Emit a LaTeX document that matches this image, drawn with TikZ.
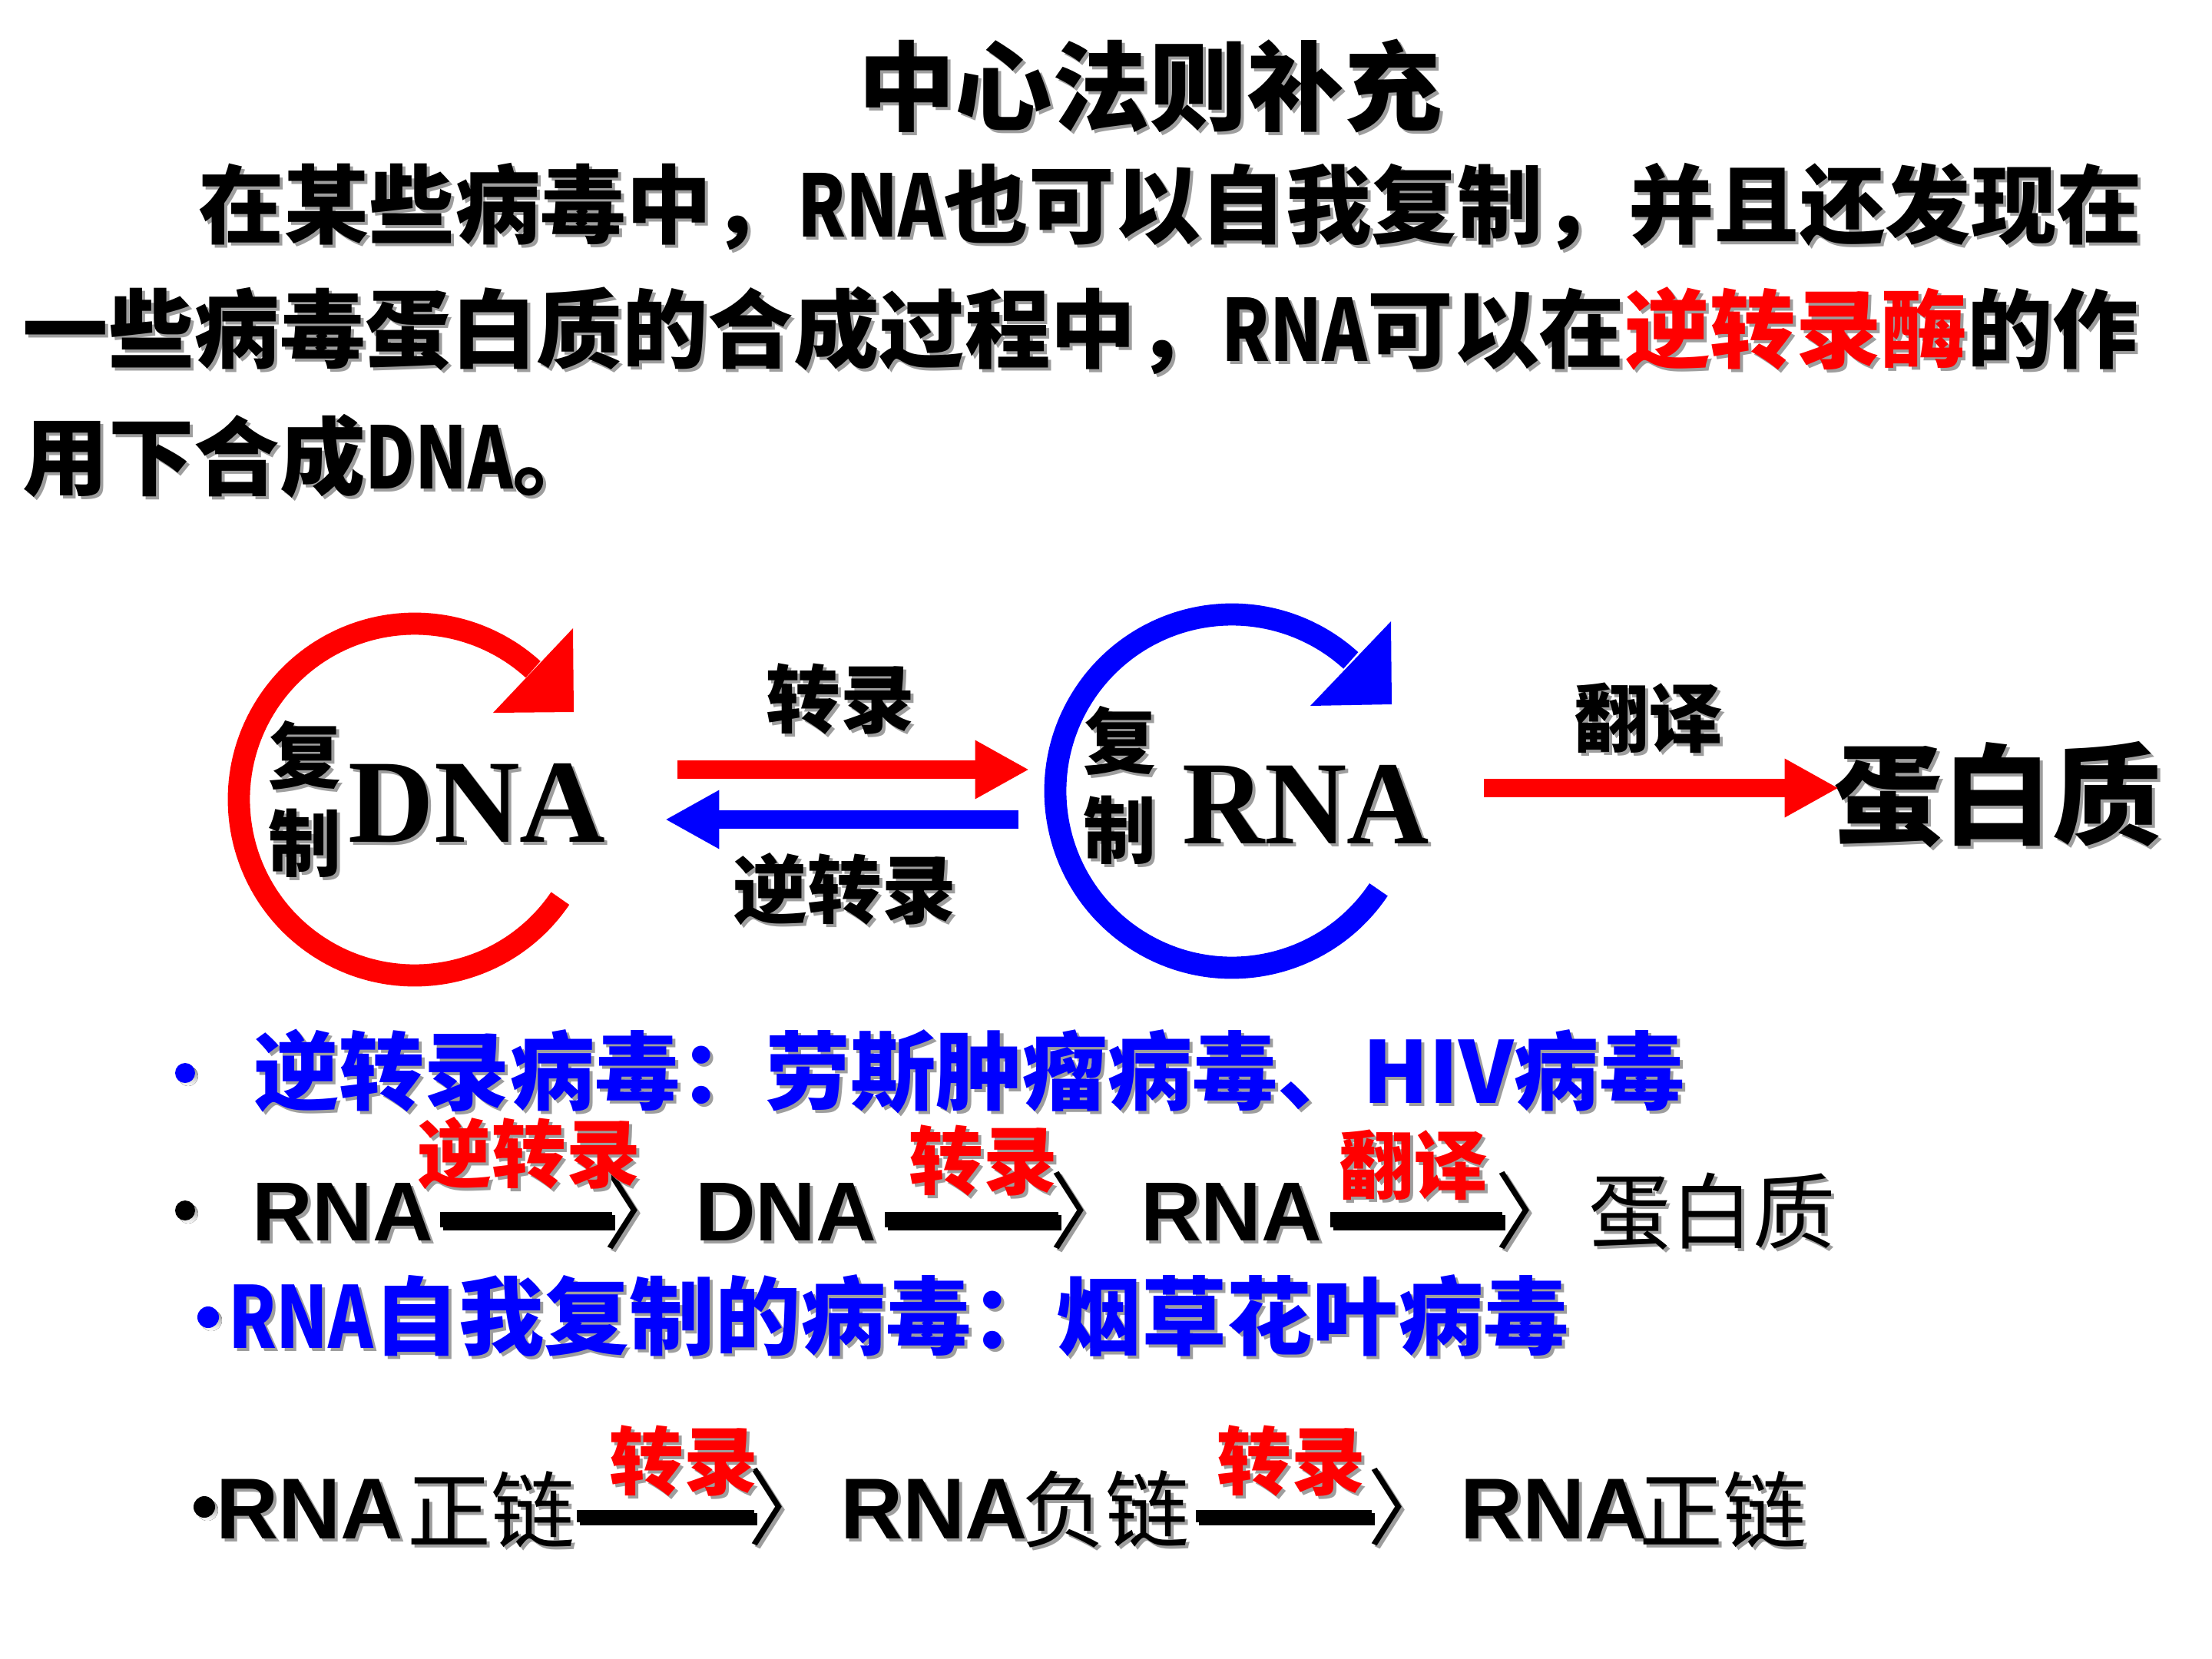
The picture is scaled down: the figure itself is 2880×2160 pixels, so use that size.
\documentclass[tikz,border=0pt]{standalone}
\usepackage{fontspec}
\usepackage{graphicx}
\usetikzlibrary{calc,arrows.meta}
\newfontfamily\cjk{Noto Sans CJK SC}
\newfontfamily\ser{Liberation Serif}
\newfontfamily\ari{Liberation Sans}
\definecolor{shade}{gray}{0.62}
\definecolor{pred}{RGB}{255,0,0}
\definecolor{pblue}{RGB}{0,0,255}
\newcommand\hlc{pred}
\newcommand\nrw[1]{\scalebox{0.8}[1]{#1}}
\newcommand\shnode[4][]{%
  \node[#1,text=shade,execute at begin node={\renewcommand\hlc{shade}}] at ($(#3)+(4,4)$) {#4};
  \node[#1] (#2) at (#3) {#4};}
\tikzset{
  every node/.style={inner sep=0pt, outer sep=0pt},
  ttl/.style={font=\cjk\bfseries\fontsize{36}{40}\selectfont},
  para/.style={font=\cjk\bfseries\fontsize{31.7}{36}\selectfont, anchor=west},
  lab/.style={font=\cjk\bfseries\fontsize{27.5}{30}\selectfont},
  fz/.style={font=\cjk\bfseries\fontsize{27}{30}\selectfont},
  mol/.style={font=\ser\bfseries\fontsize{44}{48}\selectfont},
  prot/.style={font=\cjk\bfseries\fontsize{40.4}{44}\selectfont},
  bl/.style={font=\cjk\bfseries\fontsize{31.6}{36}\selectfont, anchor=west, text=pblue},
  eqB/.style={font=\ari\bfseries\fontsize{31}{34}\selectfont, anchor=base west},
  eqD/.style={font=\ari\bfseries\fontsize{32}{35}\selectfont, anchor=base west},
  thinB/.style={font=\cjk\fontsize{30.5}{34}\selectfont, anchor=west},
  thinD/.style={font=\cjk\fontsize{31}{34}\selectfont, anchor=west},
  brk/.style={font=\cjk\fontsize{31}{34}\selectfont, anchor=west},
  rlab/.style={font=\cjk\bfseries\fontsize{27.5}{30}\selectfont, text=pred},
  barB/.style={line width=5.6pt},
  barD/.style={line width=4.4pt},
  ring/.style={line width=8.2pt},
  straight/.style={line width=6.8pt, -{Triangle[length=20pt,width=20.3pt]}},
}
\begin{document}
\begin{tikzpicture}[x=0.01cm,y=-0.01cm]
\useasboundingbox (0,0) rectangle (2880,2160);
\fill[white] (0,0) rectangle (2880,2160);

% title and paragraph
\shnode[ttl]{title}{1497,112}{中心法则补充}
\shnode[para]{p1}{258,269}{在某些病毒中，\nrw{RNA}也可以自我复制，并且还发现在}
\shnode[para]{p2}{30,431}{一些病毒蛋白质的合成过程中，\nrw{RNA}可以在\textcolor{\hlc}{逆转录酶}的作}
\shnode[para]{p3}{30,594}{用下合成\nrw{DNA}。}

% ring arrows
\coordinate (dc) at (540,1041);
\draw[ring,pred] (dc) ++(34.2:229) arc[start angle=34.2,end angle=312.3,radius=229];
\fill[pred] (746,818) -- (747,927) -- (642,928) -- cycle;
\coordinate (rc) at (1604,1030);
\draw[ring,pblue] (rc) ++(33.9:230) arc[start angle=33.9,end angle=312.3,radius=230];
\fill[pblue] (1811,809) -- (1812,917) -- (1706,919) -- cycle;

% molecule labels
\shnode[fz]{fu1}{397,983}{复}
\shnode[fz]{zhi1}{397,1098}{制}
\shnode[mol]{dna}{621,1046}{DNA}
\shnode[fz]{fu2}{1458,964}{复}
\shnode[fz]{zhi2}{1458,1081}{制}
\shnode[mol]{rna}{1700,1047}{\scalebox{0.96}[1]{RNA}}
\shnode[prot]{prot}{2601,1035}{蛋白质}

% straight arrows
\coordinate (t1s) at (882,1002);
\coordinate (t1e) at (1340,1002);
\draw[straight,pred] (t1s) -- (t1e);
\coordinate (t2s) at (1326,1067);
\coordinate (t2e) at (866,1067);
\draw[straight,pblue] (t2s) -- (t2e);
\coordinate (t3s) at (1932,1026);
\coordinate (t3e) at (2394,1026);
\draw[straight,pred] (t3s) -- (t3e);
\shnode[lab]{lzl}{1094,910}{转录}
\shnode[lab]{lnzl}{1100,1158}{逆转录}
\shnode[lab]{lfy}{2146,935}{翻译}

% line A
\fill[shade] (245,1401) circle[radius=13];
\fill[pblue] (241,1397) circle[radius=13];
\shnode[bl]{la}{330,1395}{逆转录病毒：劳斯肿瘤病毒、HIV病毒}

% line B
\fill[shade] (245,1580) circle[radius=13];
\fill[black] (241,1576) circle[radius=13];
\shnode[eqB]{b1}{328,1615}{RNA}
\coordinate (b1a) at (573,1588); \coordinate (b1b) at (797,1588);
\draw[barB,shade] ($(b1a)+(4,4)$) -- ($(b1b)+(4,4)$);
\draw[barB] (b1a) -- (b1b);
\shnode[brk]{k1}{785,1576}{〉}
\shnode[eqB]{b2}{905,1615}{DNA}
\coordinate (b2a) at (1152,1588); \coordinate (b2b) at (1378,1588);
\draw[barB,shade] ($(b2a)+(4,4)$) -- ($(b2b)+(4,4)$);
\draw[barB] (b2a) -- (b2b);
\shnode[brk]{k2}{1366,1576}{〉}
\shnode[eqB]{b3}{1485,1615}{RNA}
\coordinate (b3a) at (1732,1588); \coordinate (b3b) at (1956,1588);
\draw[barB,shade] ($(b3a)+(4,4)$) -- ($(b3b)+(4,4)$);
\draw[barB] (b3a) -- (b3b);
\shnode[brk]{k3}{1946,1576}{〉}
\shnode[thinB]{b4}{2068,1577}{蛋白质}
\shnode[rlab]{rb1}{689,1502}{逆转录}
\shnode[rlab]{rb2}{1280,1511}{转录}
\shnode[rlab]{rb3}{1840,1517}{翻译}

% line C
\fill[shade] (275,1719) circle[radius=14];
\fill[pblue] (271,1715) circle[radius=14];
\shnode[bl]{lc}{297,1713}{\nrw{RNA}自我复制的病毒：烟草花叶病毒}

% line D
\fill[shade] (270,1966) circle[radius=14];
\fill[black] (266,1962) circle[radius=14];
\shnode[eqD]{d1}{281,2003}{RNA}
\shnode[thinD]{d2}{530,1965}{正链}
\coordinate (d1a) at (751,1974); \coordinate (d1b) at (982,1974);
\draw[barD,shade] ($(d1a)+(4,4)$) -- ($(d1b)+(4,4)$);
\draw[barD] (d1a) -- (d1b);
\shnode[brk]{k4}{973,1962}{〉}
\shnode[eqD]{d3}{1094,2003}{RNA}
\shnode[thinD]{d4}{1330,1965}{负链}
\coordinate (d2a) at (1557,1974); \coordinate (d2b) at (1786,1974);
\draw[barD,shade] ($(d2a)+(4,4)$) -- ($(d2b)+(4,4)$);
\draw[barD] (d2a) -- (d2b);
\shnode[brk]{k5}{1780,1962}{〉}
\shnode[eqD]{d5}{1901,2003}{RNA}
\shnode[thinD]{d6}{2134,1965}{正链}
\shnode[rlab]{rd1}{890,1902}{转录}
\shnode[rlab]{rd2}{1681,1902}{转录}
\end{tikzpicture}
\end{document}
